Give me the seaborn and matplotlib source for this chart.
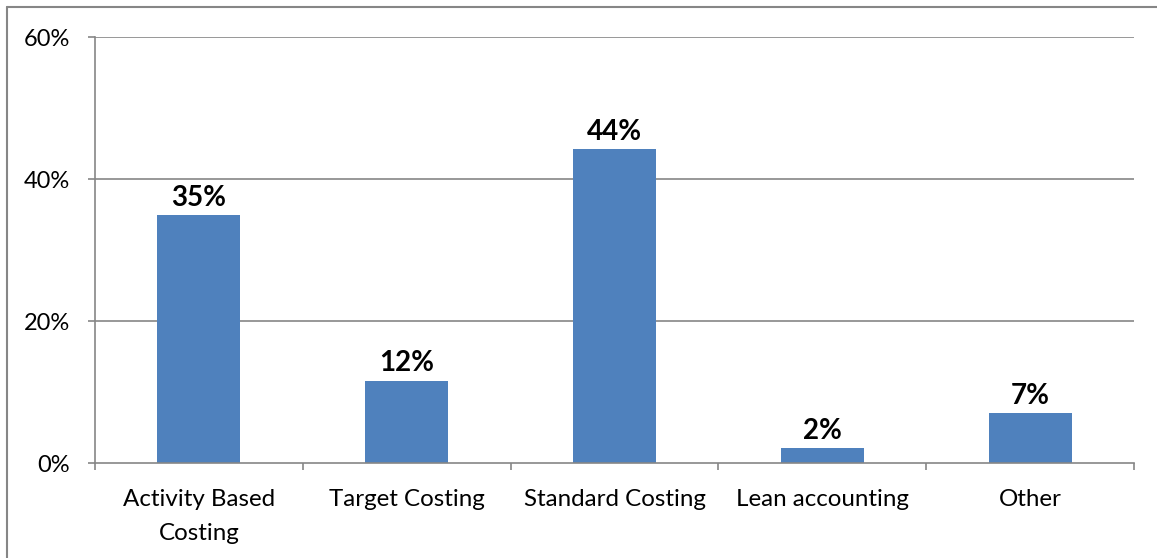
import matplotlib
matplotlib.use("Agg")
import matplotlib.pyplot as plt
from matplotlib.lines import Line2D
from matplotlib.ticker import FuncFormatter, FixedLocator
import seaborn as sns
import pandas as pd

categories = ["Activity Based\nCosting", "Target Costing", "Standard Costing",
              "Lean accounting", "Other"]
shares = [0.349, 0.116, 0.442, 0.021, 0.070]
y_ticks = [0.0, 0.2, 0.4, 0.6]

sns.set_theme(style="white")
plt.rcParams["font.family"] = ["Lato", "DejaVu Sans"]

BAR = "#4F81BD"
GRID = "#868686"

df = pd.DataFrame({"method": categories, "share": shares})

fig = plt.figure(figsize=(11.57, 5.58), dpi=100)
W, H = 1157, 558
ax = fig.add_axes([95 / W, 1 - 463 / H, (1134 - 95) / W, (463 - 37) / H])

sns.barplot(data=df, x="method", y="share", color=BAR, saturation=1,
            width=0.4, ax=ax, edgecolor="none")

ax.set_xlim(-0.5, len(categories) - 0.5)
ax.set_ylim(0, 0.6)
ax.yaxis.set_major_locator(FixedLocator(y_ticks))
ax.yaxis.set_major_formatter(FuncFormatter(lambda v, _: f"{v:.0%}"))
ax.set_xlabel("")
ax.set_ylabel("")

for y in y_ticks[1:]:
    ax.axhline(y, color=GRID, lw=1.2, zorder=0)

for side in ("top", "right"):
    ax.spines[side].set_visible(False)
for side in ("left", "bottom"):
    ax.spines[side].set_color(GRID)
    ax.spines[side].set_linewidth(1.2)

# category labels between boundary tick marks
ax.set_xticks(range(len(categories)))
ax.set_xticklabels(categories, fontsize=17.4, color="black", linespacing=1.75)
ax.tick_params(axis="x", length=0, pad=19)
ax.set_xticks([i - 0.5 for i in range(len(categories) + 1)], minor=True)
ax.tick_params(axis="x", which="minor", length=5, width=1.2, color=GRID,
               direction="out", bottom=True)
ax.tick_params(axis="y", length=5, width=1.2, color=GRID, direction="out",
               left=True, labelsize=17, labelcolor="black", pad=13)

for i, v in enumerate(shares):
    ax.annotate(f"{v:.0%}", (i, v), xytext=(0, 3), textcoords="offset points",
                ha="center", va="bottom", fontsize=20, fontweight="bold",
                color="black")

# chart frame lines
fig.add_artist(Line2D([6.5 / W, 6.5 / W], [0, 1 - 7 / H], color=GRID, lw=1.5,
                      transform=fig.transFigure))
fig.add_artist(Line2D([6.5 / W, 1], [1 - 7 / H, 1 - 7 / H], color=GRID, lw=1.5,
                      transform=fig.transFigure))

fig.savefig("out.png", dpi=100, facecolor="white")
